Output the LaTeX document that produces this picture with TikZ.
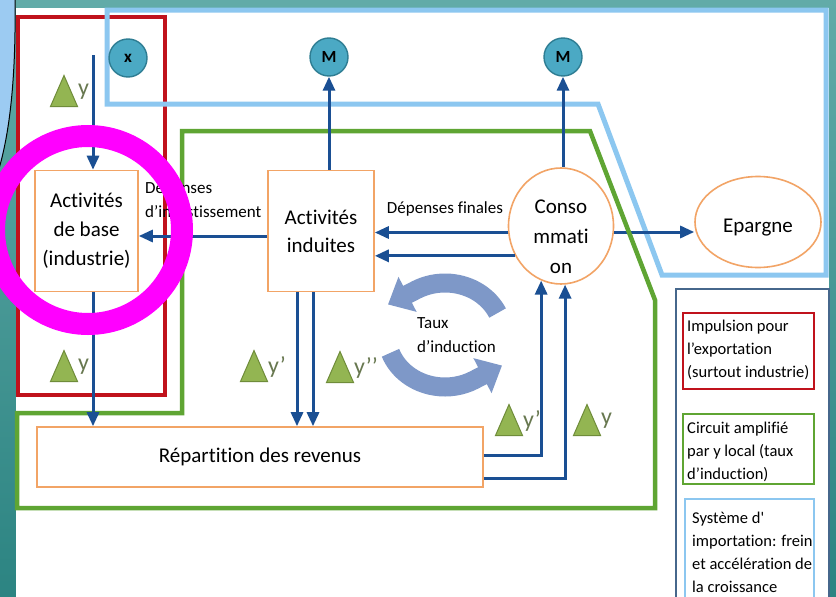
\documentclass[tikz,border=0pt]{standalone}
\usepackage{fontspec}
\setmainfont[Ligatures=NoCommon]{Carlito}
\usetikzlibrary{arrows.meta,shapes.geometric}
\definecolor{tealtop}{HTML}{62ABA8}
\definecolor{tealbot}{HTML}{2C8482}
\definecolor{lightbl}{HTML}{9CCBF2}
\definecolor{redc}{HTML}{C0121C}
\definecolor{sysbl}{HTML}{8CC7F0}
\definecolor{greenc}{HTML}{5FA533}
\definecolor{orangec}{HTML}{F2A466}
\definecolor{arrbl}{HTML}{1A4F93}
\definecolor{circf}{HTML}{4BA9C4}
\definecolor{circd}{HTML}{2E7D93}
\definecolor{trig}{HTML}{93B552}
\definecolor{trigd}{HTML}{6F8C3A}
\definecolor{ycol}{HTML}{687850}
\definecolor{indu}{HTML}{7E98C8}
\definecolor{legd}{HTML}{46678C}
\definecolor{magc}{HTML}{FF00FF}
\tikzset{
  box/.style={draw=orangec, line width=1.6, fill=white, align=center, inner sep=0pt,
    font=\fontsize{21}{29}\selectfont},
  oval/.style={ellipse, draw=orangec, line width=1.6, fill=white, align=center, inner sep=0pt,
    font=\fontsize{21}{30}\selectfont},
  circ/.style={circle, draw=circd, line width=1.4, fill=circf, minimum size=38, inner sep=0pt,
    font=\bfseries\fontsize{17}{17}\selectfont},
  arr/.style={draw=arrbl, line width=3, -{Triangle[length=14pt,width=12pt]}},
  lbl/.style={font=\fontsize{17}{24}\selectfont, align=left, inner sep=0pt},
  txt/.style={font=\fontsize{21}{30}\selectfont, align=center, inner sep=0pt},
  yl/.style={font=\fontsize{24}{24}\selectfont, text=ycol, inner sep=0pt, anchor=west},
  legbox/.style={draw, line width=2.2, inner sep=0pt, anchor=north west},
  legtxt/.style={align=left, inner sep=0pt, anchor=west, font=\fontsize{16.5}{23}\selectfont},
  delta/.pic={\filldraw[fill=trig, draw=trigd, line width=1] (-13.5,15.5) -- (13.5,15.5) -- (0,-15.5) -- cycle;},
  induarr/.style={draw=indu, line width=19, -{Triangle[length=22pt,width=38pt]}}
}
\begin{document}
\begin{tikzpicture}[x=1pt,y=-1pt]
\useasboundingbox (0,0) rectangle (836,597);
% background
\shade[top color=tealtop, bottom color=tealbot] (0,0) rectangle (836,597);
\fill[white] (16,8) rectangle (829,597);
\filldraw[fill=lightbl, draw=black, line width=1] (-2,-2) -- (15,-2) .. controls (16,70) and (11,130) .. (-2,172) -- cycle;
% red export frame
\draw[redc, line width=4.5] (18,17) rectangle (165,395);
% light blue import system
\draw[sysbl, line width=5, line join=miter] (107,10) -- (826,10) -- (826,275) -- (662,275) -- (598,104) -- (107,104) -- cycle;
% consumption and saving
\node[oval, minimum width=105, minimum height=116] (conso) at (561,226) {};
\node[txt] (consot) at (561,237) {Conso\\mmati\\on};
\node[oval, minimum width=126, minimum height=91] (epar) at (758,222) {};
\node[txt] (epart) at (758,228) {Epargne};
\draw[arr] (conso.east |- 0,232) -- (epar.west |- 0,232);
% green circuit
\draw[greenc, line width=4.5, line join=miter] (182,131) -- (590,131) -- (655,300) -- (655,508) -- (17,508) -- (17,413) -- (182,413) -- cycle;
% boxes
\node[box, minimum width=103, minimum height=121] (base) at (86.5,231) {Activités\\de base\\(industrie)};
\node[box, minimum width=106, minimum height=121, font=\fontsize{21}{28}\selectfont] (ind) at (321,231) {Activités\\induites};
\node[box, minimum width=446, minimum height=60, font=\fontsize{21}{22}\selectfont] (rep) at (260,457) {Répartition des revenus};
% circles
\node[circ] (X) at (128,58) {x};
\node[circ] (M1) at (329,57) {M};
\node[circ] (M2) at (563,57) {M};
% arrows
\coordinate (xs) at (93,55);
\draw[arr] (xs) -- (xs |- base.north);
\draw[arr] (xs |- base.south) -- (xs |- rep.north);
\draw[arr] (ind.west |- 0,236) -- (base.east |- 0,236);
\draw[arr] (M1 |- ind.north) -- (M1.south);
\draw[arr] (M2 |- conso.north) -- (M2.south);
\draw[arr] (conso.187) -- (conso.187 -| ind.east);
\draw[arr] (conso.213) -- (conso.213 -| ind.east);
\draw[arr] ([xshift=-24pt]ind.south) -- ([xshift=-24pt]ind.south |- rep.north);
\draw[arr] ([xshift=-8pt]ind.south) -- ([xshift=-8pt]ind.south |- rep.north);
\draw[arr] ([yshift=2pt]rep.east) -| (conso.250);
\draw[arr] ([yshift=-21pt]rep.east) -| (conso.274);
% labels
\node[lbl, anchor=west] (dinv) at (145,200) {Dépenses\\d’investissement};
\node[lbl] (dfin) at (445,209) {Dépenses finales};
\node[lbl, anchor=west] (taux) at (417,335) {Taux\\d’induction};
% induction circle arrows
\coordinate (ic) at (445,335);
\draw[induarr] (ic) ++(-25:58 and 52) arc[start angle=-25, end angle=-120, x radius=58, y radius=52] -- ++(-28,14.5);
\draw[induarr] (ic) ++(160:58 and 52) arc[start angle=160, end angle=60, x radius=58, y radius=52] -- ++(28,-14.5);
% deltas
\pic at (64,91) {delta}; \node[yl] (d1) at (78,92) {y};
\pic at (64,366) {delta}; \node[yl] (d2) at (78,367) {y};
\pic at (254,366) {delta}; \node[yl] (d3) at (268,367) {y’};
\pic at (340,367) {delta}; \node[yl] (d4) at (354,368) {y’’};
\pic at (509,420) {delta}; \node[yl] (d5) at (523,421) {y’};
\pic at (587,420) {delta}; \node[yl] (d6) at (601,421) {y};
% legend
\draw[legd, line width=1.6] (676,289) rectangle (829,610);
\node[legbox, draw=redc, minimum width=131, minimum height=76] (l1) at (682,312) {};
\node[legtxt] (t1) at (687,350) {Impulsion pour\\l’exportation\\(surtout industrie)};
\node[legbox, draw=greenc, minimum width=131, minimum height=70] (l2) at (682,413) {};
\node[legtxt] (t2) at (687,452) {Circuit amplifié\\par y local (taux\\d’induction)};
\node[legbox, draw=sysbl, minimum width=129, minimum height=112] (l3) at (684,498) {};
\node[legtxt] (t3) at (692,552) {Système d\textquotesingle\\importation: frein\\et accélération de\\la croissance};
% highlight ring
\draw[magc, line width=22] (88,230) circle[radius=94];
\end{tikzpicture}
\end{document}
